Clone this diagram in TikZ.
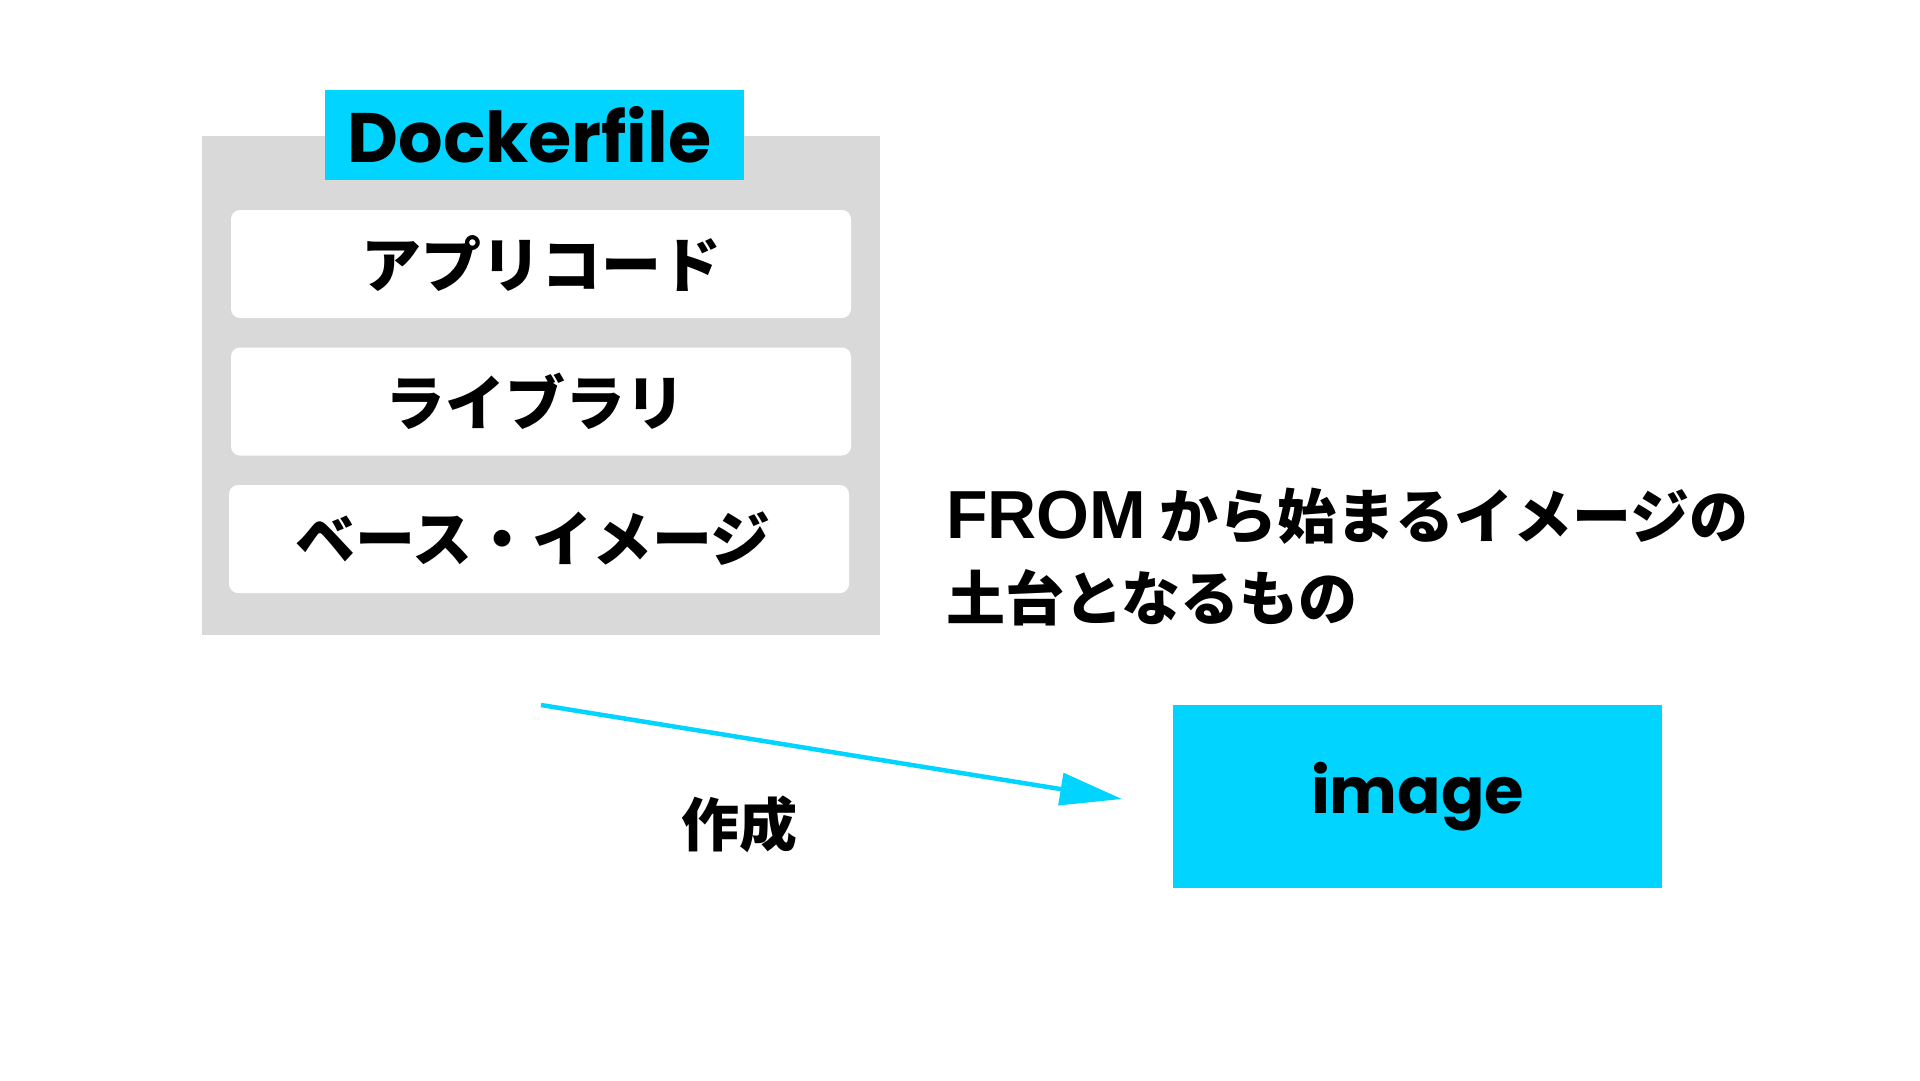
\documentclass[tikz,border=0pt]{standalone}
\usepackage{fontspec}
\usetikzlibrary{arrows.meta}
\newfontfamily\jp{Noto Sans CJK JP}
\newfontfamily\pop{Poppins}
\newfontfamily\lib{Liberation Sans}
\definecolor{cyanb}{HTML}{00D4FF}
\definecolor{grayb}{HTML}{D9D9D9}
\begin{document}
\begin{tikzpicture}[x=1pt,y=-1pt,
  panel/.style={fill=grayb, draw=none, inner sep=0pt, minimum width=678pt, minimum height=499pt},
  tag/.style={fill=cyanb, inner sep=0pt, minimum width=419pt, minimum height=90pt, font=\pop\bfseries\fontsize{70}{72}\selectfont},
  layer/.style={fill=white, rounded corners=9pt, inner sep=0pt, minimum width=620pt, minimum height=108pt, font=\jp\bfseries\fontsize{60}{62}\selectfont},
  target/.style={fill=cyanb, inner sep=0pt, minimum width=489pt, minimum height=183pt, font=\pop\bfseries\fontsize{64}{70}\selectfont},
  note/.style={inner sep=0pt, align=left, font=\jp\bfseries\fontsize{59}{82}\selectfont},
  lbl/.style={inner sep=0pt, font=\jp\bfseries\fontsize{58}{60}\selectfont},
  flow/.style={line width=4.5pt, draw=cyanb, -{Triangle[length=62pt,width=32pt]}}
]
\useasboundingbox (0,0) rectangle (1920,1080);
\node[panel] (dockerfile) at (541,385.5) {};
\node[tag] (dtag) at (534.5,135) {Dockerfile\hspace*{10pt}};
\node[layer] (app) at (541,264) {アプリコード};
\node[layer] (lib) at (541,401.5) {ライブラリ\hspace*{12pt}};
\node[layer] (base) at (539,539) {ベース・イメージ\hspace*{12pt}};
\node[note, anchor=west] (from) at (946,557) {{\lib\bfseries\fontsize{68}{82}\selectfont FROM} から始まるイメージの\\土台となるもの};
\node[target] (img) at (1417.5,796.5) {image};
\coordinate (s) at (541,705);
\coordinate (e) at (1122,799);
\draw[flow] (s) -- (e);
\node[lbl] (make) at (739,824) {作成};
\end{tikzpicture}
\end{document}
